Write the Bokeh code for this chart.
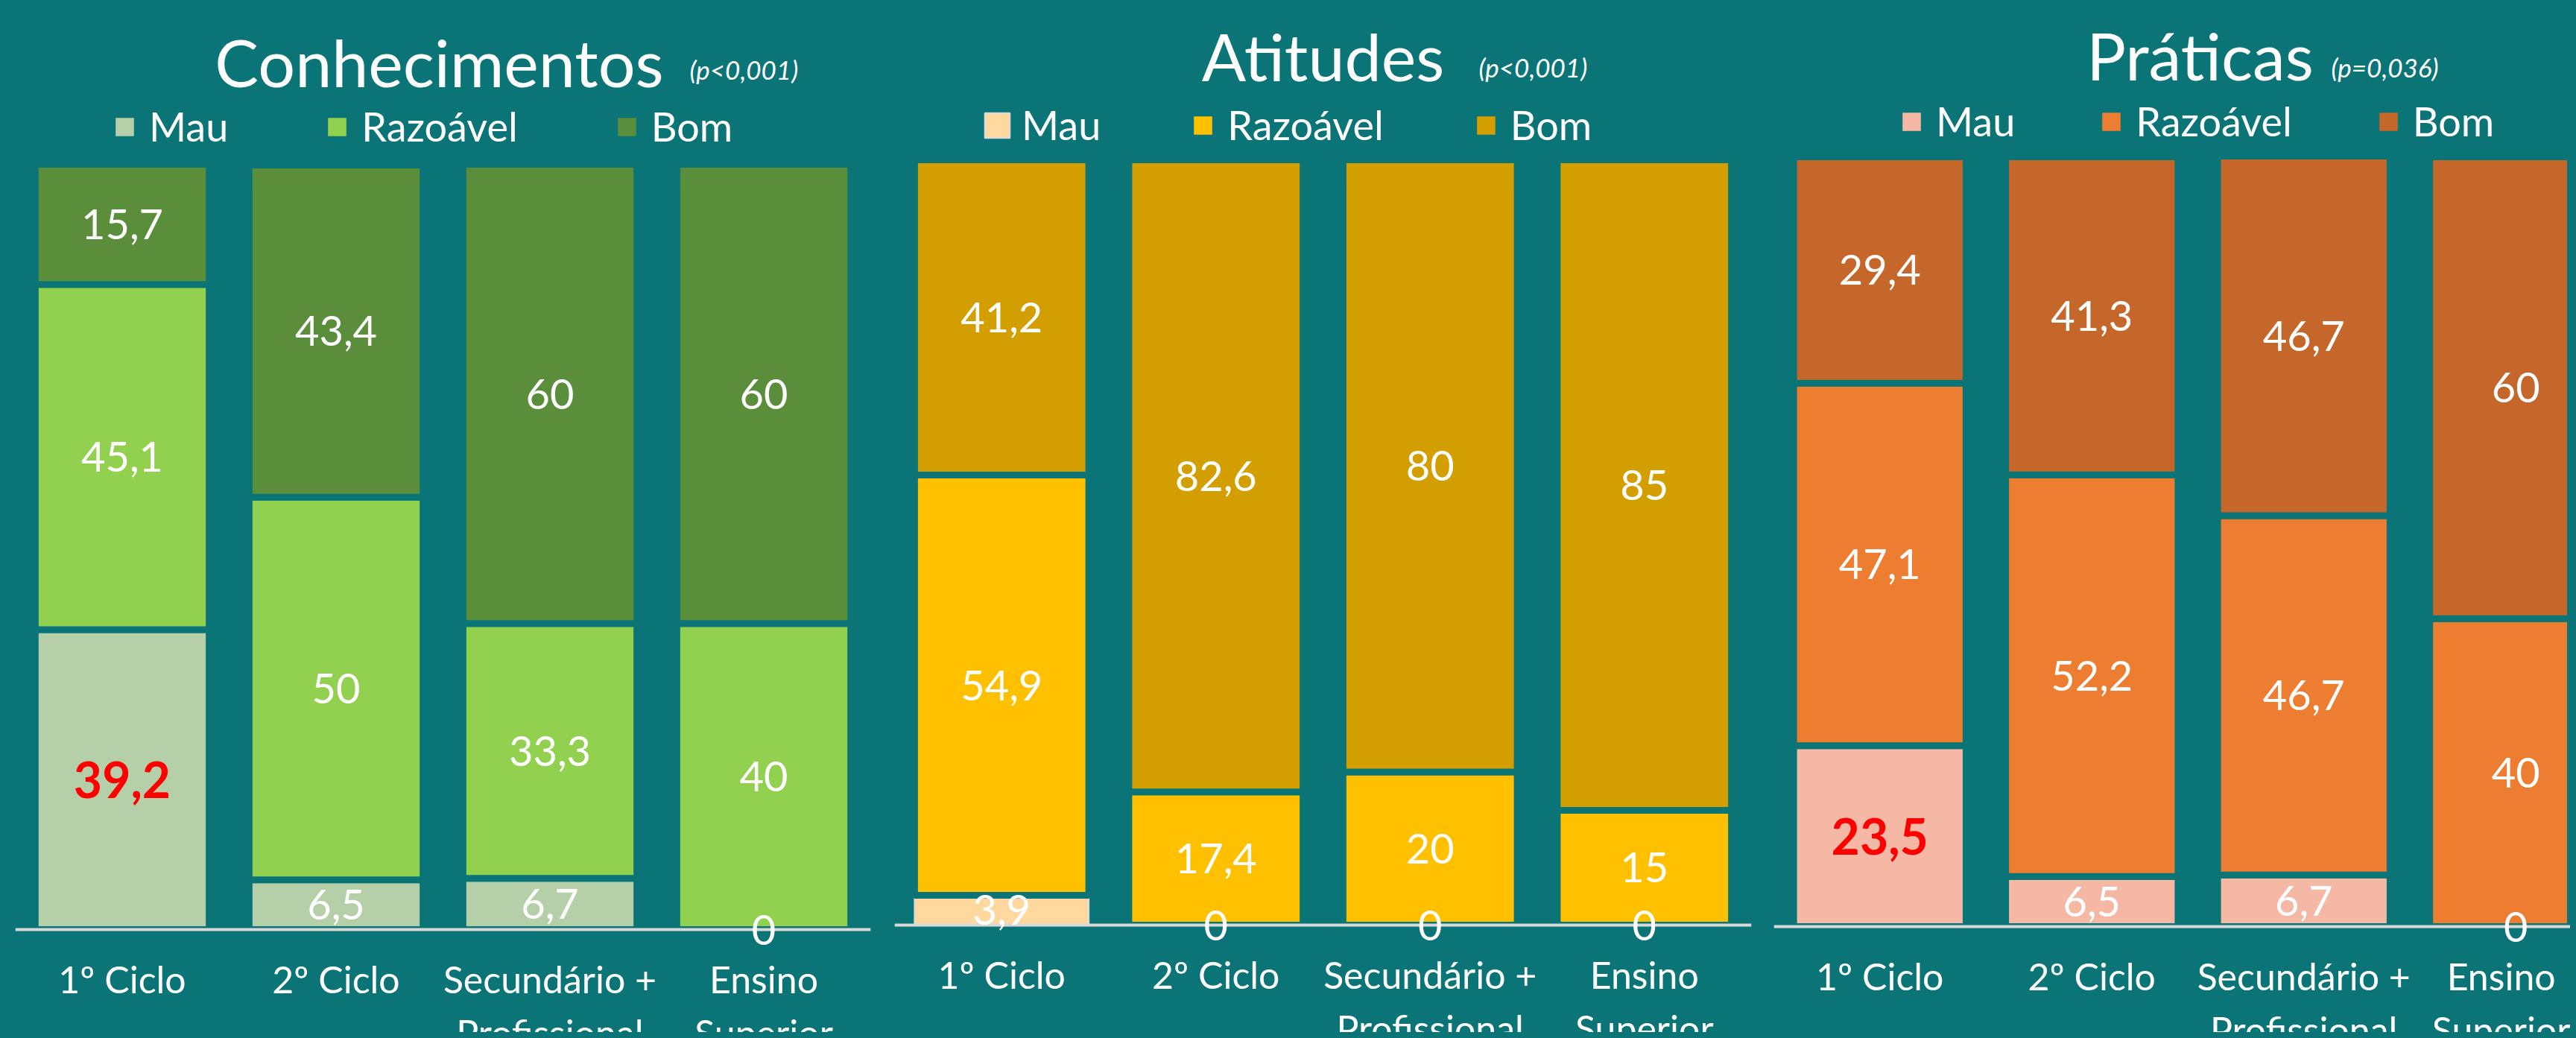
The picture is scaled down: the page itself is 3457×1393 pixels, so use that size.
from bokeh.plotting import figure
from bokeh.models import Range1d, FixedTicker, Legend, LegendItem, Label, ColumnDataSource
from bokeh.layouts import row
from bokeh.embed import file_html
from bokeh.resources import INLINE
from bokeh.core.properties import value

# ---------------- data ----------------
categories = ["1º Ciclo", "2º Ciclo", "Secundário +\nProfissional", "Ensino\nSuperior"]
levels = ["Mau", "Razoável", "Bom"]

conhecimentos_mau = [39.2, 6.5, 6.7, 0]
conhecimentos_razoavel = [45.1, 50, 33.3, 40]
conhecimentos_bom = [15.7, 43.4, 60, 60]

atitudes_mau = [3.9, 0, 0, 0]
atitudes_razoavel = [54.9, 17.4, 20, 15]
atitudes_bom = [41.2, 82.6, 80, 85]

praticas_mau = [23.5, 6.5, 6.7, 0]
praticas_razoavel = [47.1, 52.2, 46.7, 40]
praticas_bom = [29.4, 41.3, 46.7, 60]

titles = ["Conhecimentos", "Atitudes", "Práticas"]
p_values = ["(p<0,001)", "(p<0,001)", "(p=0,036)"]
# (category index, level) whose value label is highlighted in red
highlighted = [(0, "Mau"), None, (0, "Mau")]

# ---------------- style ----------------
BG = "#0A7476"
FONT = "Lato"
FIG_H = 1385
TOP = 0               # page y of figure top
BOTTOM = TOP + FIG_H  # page y of frame bottom

panels = [
    dict(series=[conhecimentos_mau, conhecimentos_razoavel, conhecimentos_bom],
         colors=["#B5CFA8", "#92D050", "#5B8E3A"],
         line_colors=[BG, BG, BG], line_widths=[9, 9, 9],
         fig_left=0, width=1177, frame_left=20, frame_w=1148, spacing=287.0,
         y0=1247, y100=220, title_cx=589, title_base=82, p_left=925, p_base=92,
         leg_x=126, leg_y=1183, leg_spacing=125),
    dict(series=[atitudes_mau, atitudes_razoavel, atitudes_bom],
         colors=["#FFD8A0", "#FFC000", "#D29E00"],
         line_colors=["#DADADA", BG, BG], line_widths=[2, 9, 9],
         fig_left=1177, width=1177, frame_left=1200, frame_w=1150, spacing=287.5,
         y0=1241, y100=214, title_cx=1775, title_base=74, p_left=1984, p_base=89,
         leg_x=117, leg_y=1185, leg_spacing=116),
    dict(series=[praticas_mau, praticas_razoavel, praticas_bom],
         colors=["#F4B8A5", "#ED7D31", "#C5672A"],
         line_colors=[BG, BG, BG], line_widths=[9, 9, 9],
         fig_left=2354, width=1095, frame_left=2380, frame_w=1069, spacing=284.5,
         y0=1243, y100=210, title_cx=2952, title_base=73, p_left=3128, p_base=89,
         leg_x=164, leg_y=1190, leg_spacing=108),
]


def fmt(v):
    return str(int(v)) if float(v).is_integer() else str(v).replace(".", ",")


figs = []
for k, cfg in enumerate(panels):
    s = (cfg["y0"] - cfg["y100"]) / 100.0
    y_start = -(BOTTOM - cfg["y0"]) / s
    y_end = (cfg["y0"] - TOP) / s
    x_end = 0.5 + cfg["frame_w"] / cfg["spacing"]

    def xd(px, cfg=cfg):
        return 0.5 + (px - cfg["frame_left"]) / cfg["spacing"]

    def yd(py, cfg=cfg, s=s):
        return (cfg["y0"] - py) / s

    min_left = cfg["frame_left"] - cfg["fig_left"]
    min_right = cfg["width"] - min_left - cfg["frame_w"]

    p = figure(width=cfg["width"], height=FIG_H, output_backend="svg", toolbar_location=None,
               x_range=Range1d(0.5, x_end), y_range=Range1d(y_start, y_end),
               y_axis_location=None, min_border_left=min_left, min_border_right=min_right,
               min_border_top=0, min_border_bottom=0,
               background_fill_color=BG, border_fill_color=BG, outline_line_color=None)
    p.xgrid.visible = False
    p.ygrid.visible = False

    xs = list(range(1, len(categories) + 1))
    data = dict(x=xs)
    for lvl, ser in zip(levels, cfg["series"]):
        data[lvl] = ser
    src = ColumnDataSource(data)
    rends = p.vbar_stack(levels, x="x", width=0.813, source=src,
                         fill_color=cfg["colors"], line_color=cfg["line_colors"],
                         line_width=cfg["line_widths"])

    # value labels
    lx, ly, lt, lc, lsz, lst = [], [], [], [], [], []
    for i, x in enumerate(xs):
        cum = 0.0
        for lvl, ser in zip(levels, cfg["series"]):
            v = ser[i]
            lx.append(x)
            ly.append(cum + v / 2.0)
            lt.append(fmt(v))
            hl = highlighted[k] is not None and highlighted[k] == (i, lvl)
            lc.append("#FF0000" if hl else "#FFFFFF")
            lsz.append("66px" if hl else "56px")
            lst.append("bold" if hl else "normal")
            cum += v
    lsrc = ColumnDataSource(dict(x=lx, y=ly, t=lt, c=lc, sz=lsz, st=lst))
    tr = p.text(x="x", y="y", text="t", source=lsrc, text_color="c", text_font_size="sz",
                text_font_style="st", text_font=value(FONT), text_align="center",
                text_baseline="middle")
    tr.level = "overlay"

    # x axis drawn at zero, with category labels
    ax = p.xaxis[0]
    ax.fixed_location = 0
    ax.ticker = FixedTicker(ticks=xs)
    ax.major_label_overrides = {x: c for x, c in zip(xs, categories)}
    ax.axis_line_color = "#D9D9D9"
    ax.axis_line_width = 4
    ax.major_tick_line_color = None
    ax.minor_tick_line_color = None
    ax.major_label_text_color = "white"
    ax.major_label_text_font = FONT
    ax.major_label_text_font_size = "50px"
    ax.major_label_standoff = 30

    # title + p value
    p.add_layout(Label(x=xd(cfg["title_cx"]), y=yd(cfg["title_base"]), text=titles[k],
                       text_align="center", text_baseline="alphabetic", text_color="white",
                       text_font=FONT, text_font_size="88px"))
    p.add_layout(Label(x=xd(cfg["p_left"]), y=yd(cfg["p_base"]), text=p_values[k],
                       text_align="left", text_baseline="alphabetic", text_color="white",
                       text_font=FONT, text_font_size="35px", text_font_style="italic"))

    # legend
    items = [LegendItem(label=lvl, renderers=[r]) for lvl, r in zip(levels, rends)]
    leg = Legend(items=items, orientation="horizontal", location=(cfg["leg_x"], cfg["leg_y"]),
                 glyph_width=42, glyph_height=42, label_standoff=12, spacing=cfg["leg_spacing"],
                 padding=0, margin=0, border_line_alpha=0, background_fill_alpha=0,
                 label_text_color="white", label_text_font=FONT, label_text_font_size="54px")
    p.add_layout(leg)
    figs.append(p)

layout = row(*figs, spacing=0)
html = file_html(layout, INLINE)
html = html.replace("</head>", "<style>html, body { background-color: %s; }</style></head>" % BG, 1)
open("out.html", "w").write(html)
